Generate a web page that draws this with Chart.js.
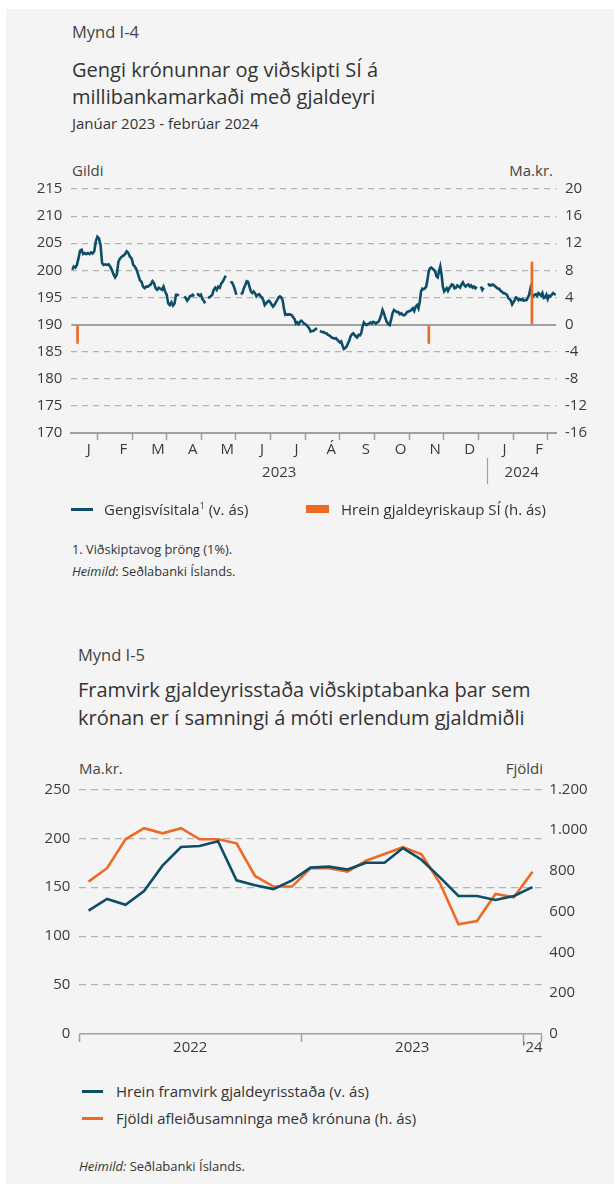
<!DOCTYPE html>
<html><head><meta charset="utf-8">
<script src="https://cdn.jsdelivr.net/npm/chart.js@4.4.1/dist/chart.umd.min.js"></script>
<style>
html,body{margin:0;padding:0;background:#fff;}
body{width:614px;height:1184px;position:relative;overflow:hidden;font-family:'Open Sans',sans-serif;color:#333;}
#panel{position:absolute;left:6px;top:9px;width:608px;height:1175px;background:#f4f4f4;}
.t{position:absolute;white-space:nowrap;}
canvas{position:absolute;left:0;}
.sw{position:absolute;}
sup{font-size:9px;line-height:0;vertical-align:6px;}
</style></head><body>
<div id="panel"></div>

<div class="t" style="left:72px;top:21px;font-size:16.5px;line-height:22px;color:#444">Mynd I-4</div>
<div class="t" style="left:72px;top:56px;font-size:20px;line-height:27px;color:#333">Gengi krónunnar og viðskipti SÍ á<br>millibankamarkaði með gjaldeyri</div>
<div class="t" style="left:72px;top:113px;font-size:15px;line-height:20px;color:#333">Janúar 2023 - febrúar 2024</div>
<div class="t" style="left:72px;top:160px;font-size:15px;line-height:20px;color:#444">Gildi</div>
<div class="t" style="right:61px;top:160px;font-size:15px;line-height:20px;color:#444">Ma.kr.</div>

<canvas id="c1" width="614" height="350" style="top:150px"></canvas>

<div class="sw" style="left:71px;top:508px;width:22px;height:3px;background:#0c4e67"></div>
<div class="t" style="left:104px;top:499px;font-size:15px;line-height:20px;color:#333">Gengisvísitala<sup>1</sup> (v. ás)</div>
<div class="sw" style="left:306px;top:505px;width:23px;height:8px;background:#ee6a24"></div>
<div class="t" style="left:341px;top:499px;font-size:15px;line-height:20px;color:#333">Hrein gjaldeyriskaup SÍ (h. ás)</div>
<div class="t" style="left:72px;top:541px;font-size:12.8px;line-height:16px;color:#333">1. Viðskiptavog þröng (1%).</div>
<div class="t" style="left:72px;top:563px;font-size:12.8px;line-height:16px;color:#333"><i>Heimild</i>: Seðlabanki Íslands.</div>

<div class="t" style="left:78px;top:644px;font-size:16.5px;line-height:22px;color:#444">Mynd I-5</div>
<div class="t" style="left:78px;top:676px;font-size:20px;line-height:28px;color:#333">Framvirk gjaldeyrisstaða viðskiptabanka þar sem<br>krónan er í samningi á móti erlendum gjaldmiðli</div>
<div class="t" style="left:79px;top:758px;font-size:15px;line-height:20px;color:#444">Ma.kr.</div>
<div class="t" style="right:71px;top:758px;font-size:15px;line-height:20px;color:#444">Fjöldi</div>

<canvas id="c2" width="614" height="340" style="top:740px"></canvas>

<div class="sw" style="left:82px;top:1090px;width:21px;height:3px;background:#0c4e67"></div>
<div class="t" style="left:116px;top:1081px;font-size:15px;line-height:20px;color:#333">Hrein framvirk gjaldeyrisstaða (v. ás)</div>
<div class="sw" style="left:82px;top:1117px;width:21px;height:3px;background:#ee6a24"></div>
<div class="t" style="left:116px;top:1108px;font-size:15px;line-height:20px;color:#333">Fjöldi afleiðusamninga með krónuna (h. ás)</div>
<div class="t" style="left:79px;top:1158px;font-size:13px;line-height:16px;color:#333"><i>Heimild:</i> Seðlabanki Íslands.</div>

<script>
// ---------- Mynd I-4 data ----------
const months = ['J','F','M','A','M','J','J','Á','S','O','N','D','J','F'];
const monthYears = [2023,2023,2023,2023,2023,2023,2023,2023,2023,2023,2023,2023,2024,2024];
const yearLabels = ['2023','2024'];
const gengiTicks = [170,175,180,185,190,195,200,205,210,215];
const kaupTicks = [-16,-12,-8,-4,0,4,8,12,16,20];
// Gengisvísitala readings, in order within each month (null = no quote)
const gengiJan23 = [200.1,200.7,200.5,201.0,202.2,203.6,203.8,203.0,203.2,203.0,203.2,203.0,203.3,203.1,203.5,205.3,206.2,205.9,204.7,201.3,201.0,201.1];
const gengiFeb23 = [201.0,201.1,200.7,200.1,199.3,198.7,199.2,201.6,202.2,202.5,202.7,203.0,203.5,203.2,202.5,202.2,201.0,200.7,200.1,199.2,198.2];
const gengiMar23 = [197.9,197.0,196.7,197.0,197.0,197.2,197.4,198.0,197.6,196.7,196.4,196.8,196.6,196.4,197.0,196.1,195.5,193.9,193.6,194.1,193.5,193.9];
const gengiApr23 = [195.5,195.5,195.3,null,null,null,195.2,194.9,194.4,194.7,195.2,195.3,195.5,195.2,null,195.5,195.6,195.3,195.5,194.7,194.4,193.9,null,195.0,195.0];
const gengiMay23 = [195.2,195.5,196.4,196.8,196.4,197.0,196.8,197.6,197.9,198.5,199.0,null,null,197.8,197.8,197.3,196.5,195.5,null,null,195.6,195.8,196.7];
const gengiJun23 = [197.3,198.0,197.9,197.0,196.1,195.8,196.1,195.8,195.2,195.5,195.6,195.2,195.0,194.5,193.6,193.9,194.2,194.4,194.1,193.7,193.3,193.6,194.1,194.5,195.0];
const gengiJul23 = [195.2,195.0,194.5,193.0,191.8,191.9,191.8,191.9,191.8,191.7,191.3,191.0,190.2,190.4,190.1,190.5,190.7,190.5,190.2,190.1,189.9,189.6,189.3,188.7,188.8,188.8];
const gengiAug23 = [189.0,189.2,189.3,null,188.8,188.7,188.6,188.6,188.4,188.4,188.1,188.0,187.8,187.6,187.5,187.4,187.5,187.2,187.0,186.7,186.9,186.1,185.5,185.7,185.9,186.5];
const gengiSep23 = [187.0,187.8,188.2,188.4,188.1,187.8,187.6,188.1,188.0,188.4,189.6,190.4,190.1,189.9,190.1,190.2,190.4,190.2,190.5,190.4,190.2,190.4,190.5,191.0,191.8,192.7];
const gengiOct23 = [192.1,191.2,190.5,190.1,189.9,190.9,192.1,192.7,192.5,192.3,192.3,191.9,192.1,191.8,191.7,191.9,192.3,192.4,192.5,192.7,193.0,192.5,193.3,193.6];
const gengiNov23 = [193.0,194.2,196.1,196.6,196.5,196.7,197.0,198.2,199.8,200.4,200.5,200.3,200.1,199.8,198.9,198.7,199.8,200.7,199.2,197.0,196.1,196.4,196.7,196.2,196.7,197.0,197.4];
const gengiDec23 = [197.3,196.7,196.8,197.2,197.0,196.8,197.4,197.8,197.3,197.0,197.3,197.4,197.0,197.2,196.8,197.0,196.7,197.0,null,null,197.0,196.4,196.8,null,null];
const gengiJan24 = [197.3,197.4,197.2,197.3,197.4,197.2,197.0,196.8,196.6,196.6,196.2,196.1,195.8,195.8,195.6,195.5,194.9,194.7,194.4,193.7,194.1,194.5,195.0,194.9,194.5,194.7,194.5];
const gengiFeb24 = [194.7,194.4,194.5,194.5,194.9,195.5,196.6,195.5,195.2,195.5,195.6,195.3,195.8,195.6,195.3,195.8,194.9,195.0,195.5,194.7,195.3,195.2,195.5,195.8,195.6,195.5];
const gengiByMonth = [gengiJan23,gengiFeb23,gengiMar23,gengiApr23,gengiMay23,gengiJun23,gengiJul23,gengiAug23,gengiSep23,gengiOct23,gengiNov23,gengiDec23,gengiJan24,gengiFeb24];
// Hrein gjaldeyriskaup SÍ (ma.kr.)
const kaupDates = ['2023-01-06','2023-11-10','2024-02-09'];
const kaupValues = [-2.8,-2.8,9.2];

// ---------- Mynd I-5 data (monthly, jan. 2022 - jan. 2024) ----------
const yearLabels2 = ['2022','2023',"'24"];
const framvirkTicks = [0,50,100,150,200,250];
const fjoldiTicks = [0,200,400,600,800,1000,1200];
const framvirk = [126,138,132,146,172,191,192,197,157,152,148,157,170,171,168,175,175,190,178,160,141,141,137,141,150];
const fjoldi = [747,813,955,1009,984,1009,955,955,935,775,723,723,813,813,796,850,883,916,881,739,538,554,687,670,796];

const BLUE = '#0c4e67', ORANGE = '#ee6a24', GRID = '#b3b3b3', AXIS = '#a0a0a0', TXT = '#3a3a3a';
Chart.defaults.font.family = "'Open Sans', sans-serif";
Chart.defaults.font.size = 15;
Chart.defaults.color = TXT;

// month coordinate helpers (x axis in month units)
const gengiPoints = [];
gengiByMonth.forEach((arr, m) => arr.forEach((v, i) => gengiPoints.push({x: m + (i + 0.5) / arr.length, y: v})));
function dateToMonth(s) {
  const [y, mo, d] = s.split('-').map(Number);
  const dim = new Date(y, mo, 0).getDate();
  return (y - monthYears[0]) * 12 + (mo - 1) + (d - 0.5) / dim;
}
const kaupPoints = kaupDates.map((d, i) => ({x: dateToMonth(d), y: kaupValues[i]}));
const nM = months.length;
const halfTicks = [];
for (let v = 0; v <= nM; v += 0.5) halfTicks.push(v);
const setTicks = arr => s => { s.ticks = arr.map(v => ({value: v})); };
const tv = c => c.tick ? c.tick.value : null;

new Chart(document.getElementById('c1'), {
  type: 'line',
  data: {
    datasets: [
      {type: 'bar', data: kaupPoints, yAxisID: 'y2', xAxisID: 'x', backgroundColor: ORANGE, barThickness: 2, grouped: false, order: 0},
      {type: 'line', data: gengiPoints, yAxisID: 'y', xAxisID: 'x', borderColor: BLUE, borderWidth: 2.6, pointRadius: 0, spanGaps: false, tension: 0, order: 1}
    ]
  },
  options: {
    responsive: false, animation: false, devicePixelRatio: 1,
    layout: {padding: {top: 39, left: 0, right: 0, bottom: 2}},
    plugins: {legend: {display: false}, tooltip: {enabled: false}},
    scales: {
      x: {type: 'linear', position: 'bottom', weight: 1, min: 0, max: nM, offset: false,
        afterBuildTicks: setTicks(halfTicks),
        afterFit: s => { s.height = 25; },
        ticks: {autoSkip: false, maxRotation: 0, minRotation: 0, padding: 1, color: TXT,
          callback: v => (v % 1 === 0.5) ? months[Math.floor(v)] : ''},
        grid: {drawOnChartArea: false, drawTicks: true, tickLength: 7, tickWidth: 1.5,
          tickColor: c => (tv(c) !== null && tv(c) % 1 === 0) ? AXIS : 'rgba(0,0,0,0)'},
        border: {display: true, color: AXIS, width: 2}
      },
      xYear: {type: 'linear', position: 'bottom', weight: 2, min: 0, max: nM, offset: false,
        afterBuildTicks: setTicks([6, 12, 13]),
        afterFit: s => { s.height = 40; },
        ticks: {autoSkip: false, maxRotation: 0, minRotation: 0, padding: -20, color: TXT,
          callback: v => v === 6 ? yearLabels[0] : (v === 13 ? yearLabels[1] : '')},
        grid: {drawOnChartArea: false, drawTicks: true, tickLength: 26, tickWidth: 1.2,
          tickColor: c => tv(c) === 12 ? AXIS : 'rgba(0,0,0,0)'},
        border: {display: false}
      },
      y: {type: 'linear', position: 'left', min: 170, max: 215,
        afterBuildTicks: setTicks(gengiTicks),
        afterFit: s => { s.width = 71.4; },
        ticks: {padding: 9, color: TXT},
        grid: {drawTicks: false, lineWidth: 1.2,
          color: c => (tv(c) === 190 || tv(c) === 170) ? 'rgba(0,0,0,0)' : GRID},
        border: {display: false, dash: [6, 5]}
      },
      y2: {type: 'linear', position: 'right', min: -16, max: 20,
        afterBuildTicks: setTicks(kaupTicks),
        afterFit: s => { s.width = 57.6; },
        ticks: {padding: 8.6, color: TXT},
        grid: {drawTicks: false, drawOnChartArea: true, lineWidth: 2,
          color: c => tv(c) === 0 ? AXIS : 'rgba(0,0,0,0)'},
        border: {display: false}
      }
    }
  }
});

// ---------- chart 2 ----------
const nM2 = framvirk.length; // 25 months
const framvirkPoints = framvirk.map((v, i) => ({x: i + 0.5, y: v}));
const fjoldiPoints = fjoldi.map((v, i) => ({x: i + 0.5, y: v}));
const fmtIs = v => String(v).replace(/\B(?=(\d{3})+(?!\d))/g, '.');

new Chart(document.getElementById('c2'), {
  type: 'line',
  data: {
    datasets: [
      {data: framvirkPoints, yAxisID: 'y', xAxisID: 'x', borderColor: BLUE, borderWidth: 2.6, pointRadius: 0, tension: 0, order: 0},
      {data: fjoldiPoints, yAxisID: 'y2', xAxisID: 'x', borderColor: ORANGE, borderWidth: 2.6, pointRadius: 0, tension: 0, order: 1}
    ]
  },
  options: {
    responsive: false, animation: false, devicePixelRatio: 1,
    layout: {padding: {top: 49.3, left: 0, right: 0, bottom: 16}},
    plugins: {legend: {display: false}, tooltip: {enabled: false}},
    scales: {
      x: {type: 'linear', position: 'bottom', weight: 1, min: 0, max: nM2, offset: false,
        afterBuildTicks: setTicks([0, 12, 24, 25]),
        afterFit: s => { s.height = 0; },
        ticks: {display: false},
        grid: {drawOnChartArea: false, drawTicks: true, tickLength: 8, tickWidth: 1.5, tickColor: AXIS},
        border: {display: true, color: AXIS, width: 1.5}
      },
      xYear: {type: 'linear', position: 'bottom', weight: 2, min: 0, max: nM2, offset: false,
        afterBuildTicks: setTicks([6, 18, 24.5]),
        afterFit: s => { s.height = 30; },
        ticks: {autoSkip: false, maxRotation: 0, minRotation: 0, padding: 5, color: TXT,
          callback: (v, i) => yearLabels2[i]},
        grid: {display: false, drawOnChartArea: false, drawTicks: false},
        border: {display: false}
      },
      y: {type: 'linear', position: 'left', min: 0, max: 250,
        afterBuildTicks: setTicks(framvirkTicks),
        afterFit: s => { s.width = 79.3; },
        ticks: {padding: 9, color: TXT},
        grid: {drawTicks: false, lineWidth: 1.2, color: c => tv(c) === 0 ? 'rgba(0,0,0,0)' : GRID},
        border: {display: false, dash: [7, 5]}
      },
      y2: {type: 'linear', position: 'right', min: 0, max: 1200,
        afterBuildTicks: setTicks(fjoldiTicks),
        afterFit: s => { s.width = 72.3; },
        ticks: {padding: 7.6, color: TXT, callback: v => fmtIs(v)},
        grid: {drawTicks: false, drawOnChartArea: false},
        border: {display: false}
      }
    }
  }
});
</script>
</body></html>
